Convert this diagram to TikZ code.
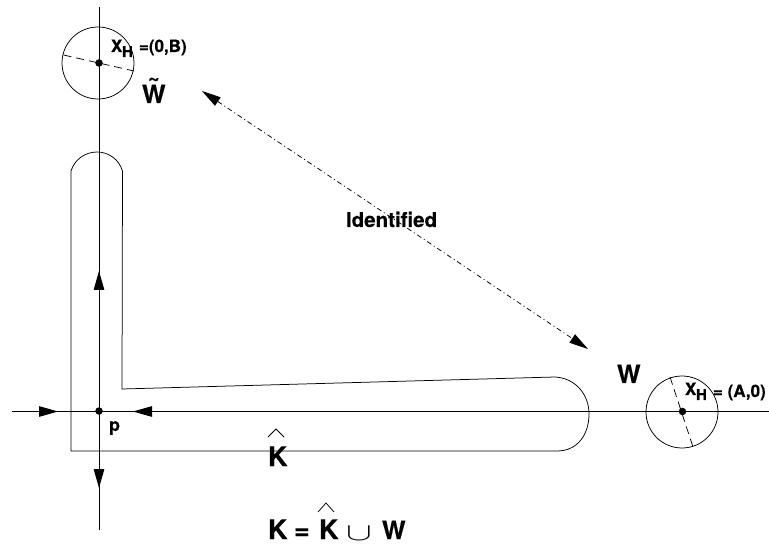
\documentclass[tikz,border=0pt]{standalone}
\usepackage{fontspec}
\setmainfont{TeX Gyre Heros}[BoldFeatures={FakeBold=0.4}]
\usetikzlibrary{arrows.meta}
\tikzset{
  line/.style={black,line width=0.75pt},
  axis/.style={black,line width=1pt},
  shaft/.style={axis,-{Triangle[length=19pt,width=10.5pt]}},
  diam/.style={black,line width=0.75pt,dash pattern=on 8pt off 5pt},
  linked/.style={black,line width=0.75pt,dash pattern=on 5pt off 3pt on 1pt off 3pt,
    {Triangle[length=19pt,width=10pt]}-{Triangle[length=19pt,width=10pt]}},
  lbl/.style={anchor=base west,inner sep=0pt,outer sep=0pt,font=\bfseries\fontsize{#1}{#1}\selectfont},
  dot/.style={circle,fill=black,inner sep=0pt,minimum size=7.5pt},
  disc/.style={circle,draw=black,line width=0.75pt,inner sep=0pt,minimum size=72pt}
}
\begin{document}
\begin{tikzpicture}[x=1pt,y=-1pt]
\useasboundingbox (0,0) rectangle (769,545);
% axes
\coordinate (vtop) at (99,7);
\coordinate (vbot) at (99,530);
\coordinate (hleft) at (12,411.5);
\coordinate (hright) at (769,411.5);
\draw[axis] (vtop) -- (vbot);
\draw[axis] (hleft) -- (hright);
% the L-shaped region
\draw[line] (122.5,171) -- (122,389) -- (555,377)
  .. controls (575,378) and (589,394) .. (589,414)
  .. controls (589,434) and (578,451) .. (557,451)
  -- (71,451) -- (71,171)
  .. controls (74.5,159.6) and (85.1,152) .. (97,152)
  .. controls (109,152) and (119,159.6) .. (122.5,171);
% discs
\node[disc] (wt) at (98,63) {};
\node[disc] (w) at (682,412) {};
\coordinate (wta) at (63.5,55);
\coordinate (wtb) at (134,71);
\coordinate (wa) at (670,377);
\coordinate (wb) at (693,447);
\draw[diam] (wta) -- (wtb);
\draw[diam] (wa) -- (wb);
\node[dot] (xb) at (99,63) {};
\node[dot] (xa) at (682.5,411.5) {};
\node[dot] (p) at (99,411) {};
% axis arrows
\coordinate (a1) at (39,411.5); \coordinate (a1t) at (58,411.5);
\coordinate (a2) at (153,411.5); \coordinate (a2t) at (133,411.5);
\coordinate (a3) at (99,469); \coordinate (a3t) at (99,488);
\coordinate (a4) at (99,290); \coordinate (a4t) at (99,271);
\draw[shaft] (a1) -- (a1t);
\draw[shaft] (a2) -- (a2t);
\draw[shaft] (a3) -- (a3t);
\draw[shaft] (a4) -- (a4t);
% identification
\coordinate (ida) at (202,91);
\coordinate (idb) at (588,349);
\draw[linked] (ida) -- (idb);
% labels
\node[lbl=17] (l1) at (111,52) {X};
\node[lbl=15] (l2) at (122,57) {H};
\node[lbl=17] (l3) at (139,52) {=(0,B)};
\node[lbl=17] (l4) at (685,395) {X};
\node[lbl=15] (l5) at (696,400) {H};
\node[lbl=17] (l6) at (713,397) {= (A,0)};
\node[lbl=25] (l7) at (142,103) {\rlap{\hspace{6pt}\raisebox{19pt}{\fontsize{20}{20}\selectfont\char"007E}}W};
\node[lbl=25] (l9) at (617,383) {W};
\node[lbl=20.5] (l10) at (346,227) {Identified};
\node[lbl=18] (l11) at (109,431) {p};
\node[lbl=27] (l12) at (268,466) {K};
\node[lbl=27] (l13) at (268,539) {K};
\node[lbl=27] (l13b) at (294,539) {=};
\node[lbl=27] (l14) at (319,539) {K};
\node[anchor=base west,inner sep=0pt,font=\fontsize{25}{25}\selectfont] (l15) at (346,540) {\scalebox{1.55}[1]{$\cup$}};
\node[lbl=25] (l16) at (382,539) {W};
% hats
\draw[line] (268,437) -- (276,429) -- (284,437);
\draw[line] (318,512) -- (326,503) -- (334,512);
\end{tikzpicture}
\end{document}
